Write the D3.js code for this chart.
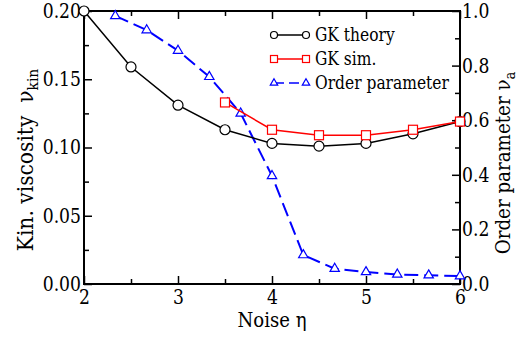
<!DOCTYPE html>
<html>
<head>
<meta charset="utf-8">
<script src="https://cdn.jsdelivr.net/npm/d3@7"></script>
<style>
  body { margin: 0; background: #fff; }
</style>
</head>
<body>
<svg id="chart" width="528" height="337"></svg>
<script>
// data
let theoryNoise = [2, 2.5, 3, 3.5, 4, 4.5, 5, 5.5, 6]
let theoryVisc = [0.200, 0.159, 0.131, 0.113, 0.103, 0.101, 0.103, 0.110, 0.119]

let simNoise = [3.5, 4, 4.5, 5, 5.5, 6]
let simVisc = [0.133, 0.113, 0.109, 0.109, 0.113, 0.119]

let orderNoise = [2.333, 2.667, 3, 3.333, 3.667, 4, 4.333, 4.667, 5, 5.333, 5.667, 6]
let orderVal = [0.982, 0.930, 0.855, 0.759, 0.625, 0.396, 0.106, 0.056, 0.044, 0.035, 0.032, 0.029]

let xTicks = [2, 3, 4, 5, 6]
let yLeftTicks = [0, 0.05, 0.10, 0.15, 0.20]
let yRightTicks = [0, 0.2, 0.4, 0.6, 0.8, 1.0]

let serif = "'DejaVu Serif', serif"
let squeeze = 0.86 // DejaVu Serif is wider than Times

let margin = {left: 84, right: 68, top: 11, bottom: 53}
let width = 528 - margin.left - margin.right
let height = 337 - margin.top - margin.bottom

let svg = d3.select("#chart").attr("font-family", serif)
let g = svg.append("g").attr("transform", "translate(" + margin.left + "," + margin.top + ")")

let x = d3.scaleLinear().domain([2, 6]).range([0, width])
let yL = d3.scaleLinear().domain([0, 0.2]).range([height, 0])
let yR = d3.scaleLinear().domain([0, 1]).range([height, 0])

function condense(sel) {
    sel.each(function() {
        let len = this.getComputedTextLength()
        if (len > 0) d3.select(this).attr("textLength", len * squeeze).attr("lengthAdjust", "spacingAndGlyphs")
    })
}

function styleAxis(sel, fontSize) {
    sel.attr("font-family", serif)
    sel.select(".domain").remove()
    sel.selectAll("line").attr("stroke", "#000").attr("stroke-width", 1.5)
    sel.selectAll("text").attr("font-size", fontSize).attr("fill", "#000").call(condense)
}

// minor ticks
let minorX = [2.5, 3.5, 4.5, 5.5]
g.append("g").attr("transform", "translate(0," + height + ")")
    .call(d3.axisBottom(x).tickValues(minorX).tickSize(-5).tickFormat(""))
    .call(s => styleAxis(s, 20))
g.append("g")
    .call(d3.axisTop(x).tickValues(minorX).tickSize(-5).tickFormat(""))
    .call(s => styleAxis(s, 20))
g.append("g")
    .call(d3.axisTop(x).tickValues(xTicks).tickSize(-8).tickFormat(""))
    .call(s => styleAxis(s, 20))
g.append("g")
    .call(d3.axisLeft(yL).tickValues([0.025, 0.075, 0.125, 0.175]).tickSize(-5).tickFormat(""))
    .call(s => styleAxis(s, 20))
g.append("g").attr("transform", "translate(" + width + ",0)")
    .call(d3.axisRight(yR).tickValues([0.1, 0.3, 0.5, 0.7, 0.9]).tickSize(-5).tickFormat(""))
    .call(s => styleAxis(s, 20))

// major ticks with labels
g.append("g").attr("transform", "translate(0," + height + ")")
    .call(d3.axisBottom(x).tickValues(xTicks).tickSize(-8).tickPadding(6).tickFormat(d3.format("d")))
    .call(s => styleAxis(s, 20))
g.append("g")
    .call(d3.axisLeft(yL).tickValues(yLeftTicks).tickSize(-8).tickPadding(3).tickFormat(d3.format(".2f")))
    .call(s => styleAxis(s, 20))
g.append("g").attr("transform", "translate(" + width + ",0)")
    .call(d3.axisRight(yR).tickValues(yRightTicks).tickSize(-8).tickPadding(2).tickFormat(d3.format(".1f")))
    .call(s => styleAxis(s, 20))

// frame
g.append("rect").attr("width", width).attr("height", height)
    .attr("fill", "none").attr("stroke", "#000").attr("stroke-width", 2)

// series
let theory = theoryNoise.map((n, i) => [n, theoryVisc[i]])
let sim = simNoise.map((n, i) => [n, simVisc[i]])
let order = orderNoise.map((n, i) => [n, orderVal[i]])

g.append("path").datum(order)
    .attr("d", d3.line().x(d => x(d[0])).y(d => yR(d[1])))
    .attr("fill", "none").attr("stroke", "#0000ff").attr("stroke-width", 2)
    .attr("stroke-dasharray", "14,6")
g.selectAll(".tri").data(order).join("path")
    .attr("d", d3.symbol().type(d3.symbolTriangle).size(38))
    .attr("transform", d => "translate(" + x(d[0]) + "," + yR(d[1]) + ")")
    .attr("fill", "#fff").attr("stroke", "#0000ff").attr("stroke-width", 1.2)

g.append("path").datum(theory)
    .attr("d", d3.line().x(d => x(d[0])).y(d => yL(d[1])))
    .attr("fill", "none").attr("stroke", "#000").attr("stroke-width", 1.5)
g.selectAll(".circ").data(theory).join("circle")
    .attr("cx", d => x(d[0])).attr("cy", d => yL(d[1])).attr("r", 5)
    .attr("fill", "#fff").attr("stroke", "#000").attr("stroke-width", 1.2)

g.append("path").datum(sim)
    .attr("d", d3.line().x(d => x(d[0])).y(d => yL(d[1])))
    .attr("fill", "none").attr("stroke", "#ff0000").attr("stroke-width", 1.5)
g.selectAll(".sq").data(sim).join("rect")
    .attr("x", d => x(d[0]) - 4.5).attr("y", d => yL(d[1]) - 4.5)
    .attr("width", 9).attr("height", 9)
    .attr("fill", "#fff").attr("stroke", "#ff0000").attr("stroke-width", 1.2)

// legend
let legend = [
    {label: "GK theory", color: "#000", mark: "circle", dash: null},
    {label: "GK sim.", color: "#ff0000", mark: "square", dash: null},
    {label: "Order parameter", color: "#0000ff", mark: "triangle", dash: "10,5"}
]
let lg = svg.append("g").attr("transform", "translate(274,35)")
legend.forEach((d, i) => {
    let row = lg.append("g").attr("transform", "translate(0," + i * 24 + ")")
    row.append("line").attr("x1", 0).attr("x2", 32)
        .attr("stroke", d.color).attr("stroke-width", 1.5)
        .attr("stroke-dasharray", d.dash)
    ;[0, 32].forEach(px => {
        if (d.mark == "circle") {
            row.append("circle").attr("cx", px).attr("cy", 0).attr("r", 3.5)
                .attr("fill", "#fff").attr("stroke", d.color).attr("stroke-width", 1.2)
        } else if (d.mark == "square") {
            row.append("rect").attr("x", px - 3.5).attr("y", -3.5).attr("width", 7).attr("height", 7)
                .attr("fill", "#fff").attr("stroke", d.color).attr("stroke-width", 1.2)
        } else {
            row.append("path").attr("d", d3.symbol().type(d3.symbolTriangle).size(24))
                .attr("transform", "translate(" + px + ",0)")
                .attr("fill", "#fff").attr("stroke", d.color).attr("stroke-width", 1.2)
        }
    })
    row.append("text").attr("x", 41).attr("y", 6).attr("font-size", 18).text(d.label).call(condense)
})

// axis titles
svg.append("text")
    .attr("x", margin.left + width / 2).attr("y", 327)
    .attr("text-anchor", "middle").attr("font-size", 21)
    .text("Noise η").call(condense)

let yt = svg.append("text")
    .attr("transform", "translate(33,160) rotate(-90) scale(0.92,1)")
    .attr("text-anchor", "middle").attr("font-size", 22)
    .attr("xml:space", "preserve")
yt.append("tspan").text("Kin. viscosity  ν")
yt.append("tspan").attr("dy", 5).attr("font-size", 15).text("kin")

let yt2 = svg.append("text")
    .attr("transform", "translate(510,163) rotate(-90) scale(0.87,1)")
    .attr("text-anchor", "middle").attr("font-size", 21)
yt2.append("tspan").text("Order parameter ν")
yt2.append("tspan").attr("dy", 5).attr("font-size", 15).text("a")
</script>
</body>
</html>
